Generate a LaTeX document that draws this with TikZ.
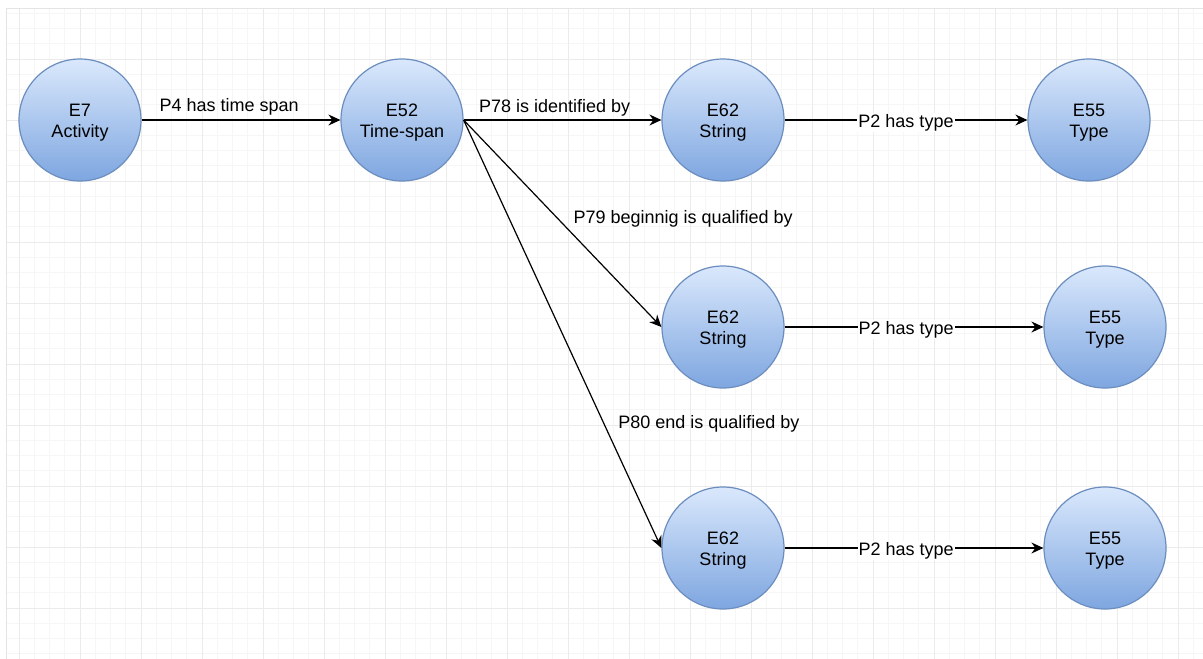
\documentclass[tikz,border=0pt]{standalone}
\usepackage{fontspec}
\setmainfont{Liberation Sans}
\usetikzlibrary{arrows.meta}
\definecolor{entfillA}{HTML}{DAE8FC}
\definecolor{entfillB}{HTML}{7EA6E0}
\definecolor{entline}{HTML}{6C8EBF}
\definecolor{gridminor}{RGB}{246,246,246}
\definecolor{gridmajor}{RGB}{235,235,235}
\definecolor{gridedge}{RGB}{228,228,228}

\begin{document}
\begin{tikzpicture}[x=1pt,y=-1pt,
  entity/.style={circle, minimum size=122pt, inner sep=0pt, draw=entline,
    line width=1.2pt, top color=entfillA, bottom color=entfillB},
  ename/.style={align=center, font=\fontsize{18}{21}\selectfont, inner sep=0pt, yshift=-3pt},
  rel/.style={line width=1.2pt, -{Stealth[length=12pt,width=11pt,inset=4pt]}},
  lbl/.style={font=\fontsize{18}{21}\selectfont, inner sep=0pt},
  onlbl/.style={lbl, fill=white, inner sep=1pt, yshift=-2.5pt},
  minorline/.style={draw=gridminor, line width=0.8pt},
  majorline/.style={draw=gridmajor, line width=0.9pt}]

  % canvas and background grid
  \useasboundingbox (0,0) rectangle (1203,659);
  \fill[white] (0,0) rectangle (1203,659);
  \foreach \i in {0,...,78} \draw[minorline] ({19+15.25*\i},8) -- ({19+15.25*\i},659);
  \foreach \j in {0,...,42} \draw[minorline] (6,{13.25+15.25*\j}) -- (1203,{13.25+15.25*\j});
  \foreach \i in {0,...,19} \draw[majorline] ({19+61*\i},8) -- ({19+61*\i},659);
  \foreach \j in {0,...,9} \draw[majorline] (6,{59+61*\j}) -- (1203,{59+61*\j});
  \draw[draw=gridedge, line width=0.9pt] (6,659) -- (6,8) -- (1203,8);

  % entities
  \node[entity, label={[ename]center:{E7\\Activity}}] (act) at (80,120) {};
  \node[entity, label={[ename]center:{E52\\Time-span}}] (ts) at (402,120) {};
  \node[entity, label={[ename]center:{E62\\String}}] (s1) at (723,120) {};
  \node[entity, label={[ename]center:{E55\\Type}}] (t1) at (1089,120) {};
  \node[entity, label={[ename]center:{E62\\String}}] (s2) at (723,327) {};
  \node[entity, label={[ename]center:{E55\\Type}}] (t2) at (1105,327) {};
  \node[entity, label={[ename]center:{E62\\String}}] (s3) at (723,548) {};
  \node[entity, label={[ename]center:{E55\\Type}}] (t3) at (1105,548) {};

  % properties
  \draw[rel] (act.east) -- node[lbl, pos=0.44, above=4.5pt] {P4 has time span} (ts.west);
  \draw[rel] (ts.east) -- node[lbl, pos=0.46, above=3pt] {P78 is identified by} (s1.west);
  \draw[rel] (ts.east) -- node[lbl, pos=0.5, anchor=base west, xshift=10.5pt] {P79 beginnig is qualified by} (s2.west);
  \draw[rel] (ts.east) -- node[lbl, pos=0.72, anchor=base west, xshift=11.7pt] {P80 end is qualified by} (s3.west);
  \draw[rel] (s1.east) -- node[onlbl, pos=0.5] {P2 has type} (t1.west);
  \draw[rel] (s2.east) -- node[onlbl, pos=0.47] {P2 has type} (t2.west);
  \draw[rel] (s3.east) -- node[onlbl, pos=0.47] {P2 has type} (t3.west);
\end{tikzpicture}
\end{document}
